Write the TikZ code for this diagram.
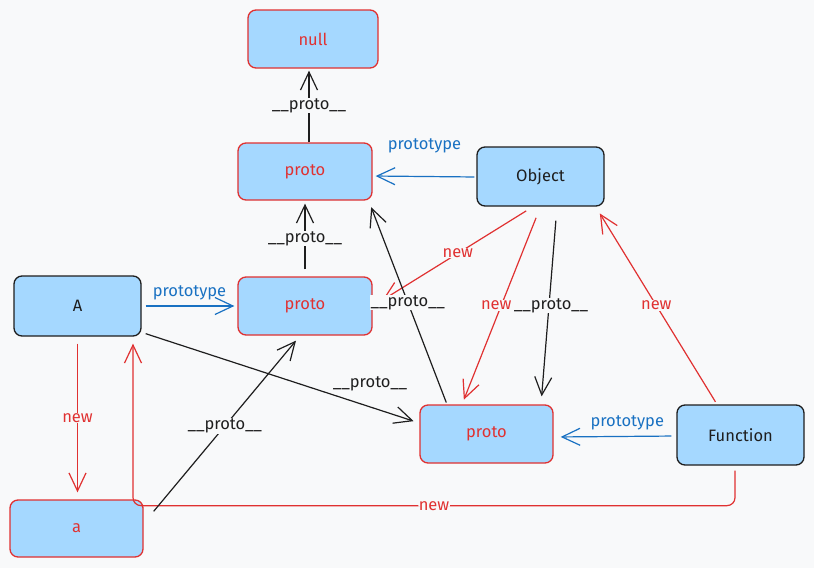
\documentclass[tikz,border=0pt]{standalone}
\usepackage{fontspec}
\setmainfont{Fira Sans}
\usetikzlibrary{arrows.meta, positioning, calc}

\definecolor{canvas}{HTML}{F8F9FA}
\definecolor{boxfill}{HTML}{A5D8FF}
\definecolor{exred}{HTML}{E03131}
\definecolor{exblue}{HTML}{1971C2}
\definecolor{exblack}{HTML}{1E1E1E}

\begin{document}
\begin{tikzpicture}[
  x=1pt, y=-1pt,
  box/.style = {rectangle, rounded corners=8pt, fill=boxfill, line width=1.3pt, minimum width=130pt, minimum height=58pt, inner sep=0pt},
  redbox/.style = {box, draw=exred, text=exred},
  blackbox/.style = {box, draw=exblack, text=exblack},
  arrow/.style = {line width=1.2pt, -{Straight Barb[length=18pt, width=17pt]}},
  protoarrow/.style = {arrow, exblack},
  newarrow/.style = {arrow, exred},
  typearrow/.style = {arrow, exblue},
  lbl/.style = {fill=canvas, inner sep=0.5pt},
  every node/.style = {font=\fontsize{16.5}{19}\selectfont}
]

% Canvas
\fill[canvas, use as bounding box] (0,0) rectangle (814,568);

% Objects
\node[redbox, minimum width=130pt] (null) at (313,39) {null};
\node[redbox, minimum width=134pt, minimum height=57pt] (protoTop) at (305,171.5) {proto};
\node[blackbox, minimum width=127pt, minimum height=59pt] (Object) at (540.5,176.5) {Object};
\node[blackbox, minimum width=127pt, minimum height=60pt] (A) at (77.5,306) {A};
\node[redbox, minimum width=134pt] (protoMid) at (305,306) {proto};
\node[redbox, minimum width=133pt] (protoLow) at (486.5,434) {proto};
\node[blackbox, minimum width=127pt, minimum height=60pt] (Function) at (740.5,435) {Function};
\node[redbox, minimum width=133pt, minimum height=57pt] (a) at (76.5,528.5) {a};

% prototype links
\draw[typearrow, shorten <=2pt, shorten >=3pt] ([yshift=-0.5pt]Object.west) -- node[above=20pt] {prototype} ([yshift=-4.5pt]protoTop.east);
\draw[typearrow, shorten <=4pt, shorten >=3pt] (A.east) -- node[above=2pt] {prototype} (protoMid.west);
\draw[typearrow, shorten <=5pt, shorten >=7pt] ([yshift=-1pt]Function.west) -- node[pos=0.4, above=2pt] {prototype} ([yshift=-3pt]protoLow.east);

% new links
\draw[newarrow, shorten <=7pt, shorten >=7pt] (A.south) -- node[lbl] {new} ([xshift=1pt]a.north);
\draw[newarrow, rounded corners=8pt] ([xshift=-5.5pt, yshift=-5pt]Function.south) -- ++(0,35) -| node[pos=0.25, lbl] {new} ([xshift=55.5pt, yshift=-7pt]A.south);
\draw[newarrow, shorten <=8pt] ([xshift=-7.5pt]Object.south) -- node[lbl] {new} ([xshift=10pt, yshift=6pt]protoMid.east);
\draw[newarrow, shorten <=12pt, shorten >=5pt] (Object.south) -- node[lbl, xshift=-5pt] {new} ([xshift=-24.5pt]protoLow.north);
\draw[newarrow, shorten <=3pt, shorten >=8pt] ([xshift=-23.5pt]Function.north) -- node[lbl] {new} ([xshift=-9pt]Object.south east);

% __proto__ links
\draw[protoarrow, shorten >=2pt] ([xshift=4pt]protoTop.north) -- node[lbl] {\_\_proto\_\_} ([xshift=-4pt]null.south);
\draw[protoarrow, shorten <=7pt, shorten >=3pt] (protoMid.north) -- node[lbl] {\_\_proto\_\_} (protoTop.south);
\draw[protoarrow, shorten <=14pt, shorten >=8pt] ([xshift=16.5pt]Object.south) -- node[lbl, xshift=2pt] {\_\_proto\_\_} ([xshift=54.5pt]protoLow.north);
\draw[protoarrow, shorten <=2pt, shorten >=7pt] ([xshift=-39.5pt]protoLow.north) -- node[lbl] {\_\_proto\_\_} ([xshift=-4pt]protoTop.south east);
\draw[protoarrow, shorten >=6pt] ([xshift=4pt, yshift=3pt]A.south east) -- node[pos=0.82, above=12pt] {\_\_proto\_\_} ([yshift=11pt]protoLow.west);
\draw[protoarrow] ([xshift=10pt, yshift=-12pt]a.north east) -- node[lbl] {\_\_proto\_\_} ([xshift=-9pt, yshift=-5pt]protoMid.south);

\end{tikzpicture}
\end{document}
